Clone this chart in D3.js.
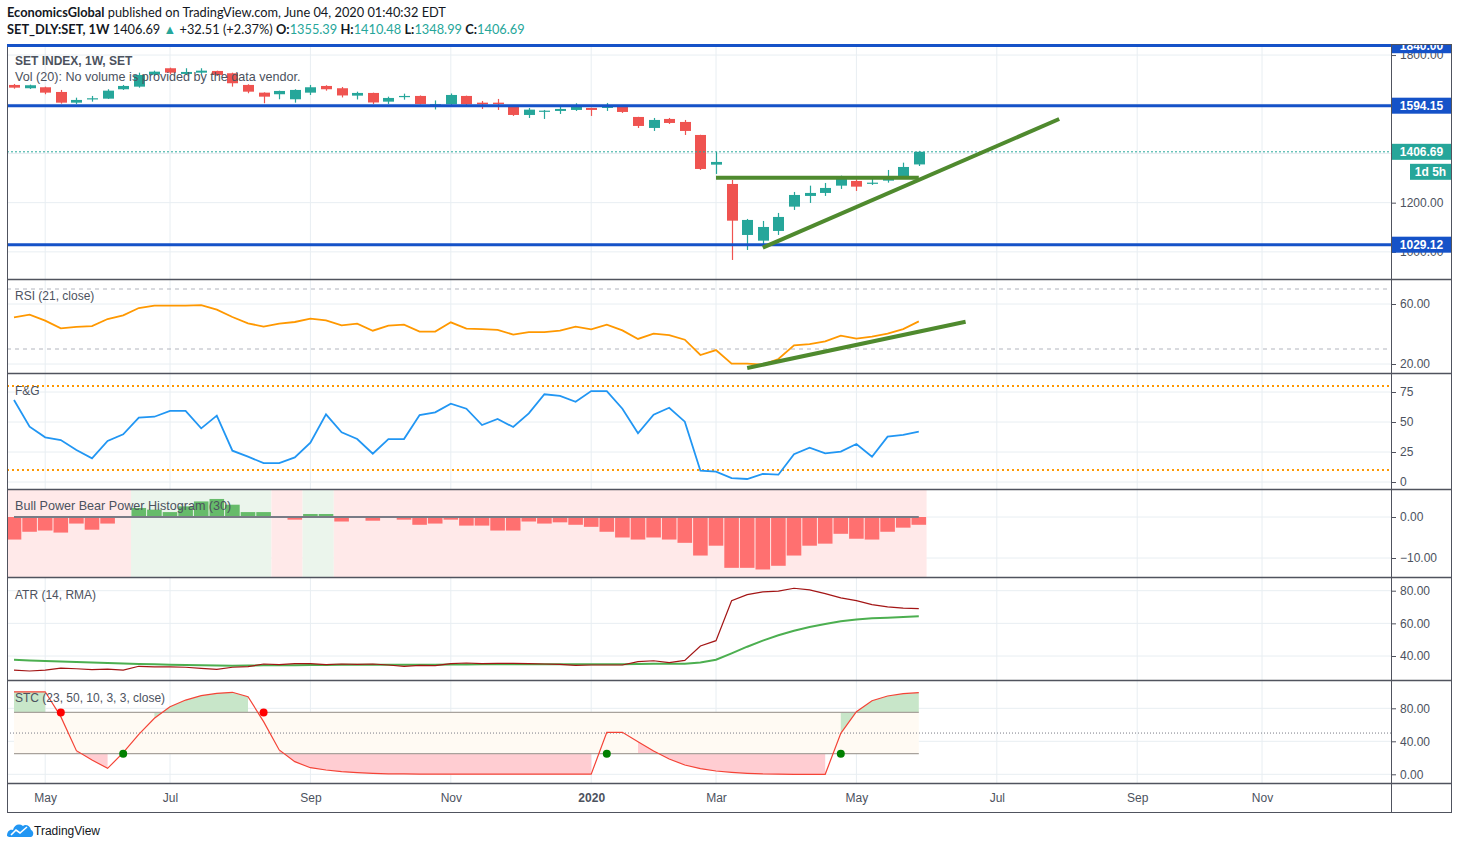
<!DOCTYPE html>
<html>
<head>
<meta charset="utf-8">
<script src="https://cdn.jsdelivr.net/npm/d3@7"></script>
<style>
  body { margin: 0; background: #fff; }
  svg text { font-family: "Liberation Sans", Arial, sans-serif; }
  .axis text { fill: #4c525e; font-size: 12px; }
  .axis line { stroke: #50535e; }
  .axis path { display: none; }
  .title { fill: #4c525e; font-size: 12px; }
  .header { font-family: Lato, "Liberation Sans", sans-serif !important; font-size: 12.8px; fill: #131722; }
</style>
</head>
<body>
<script>
// weekly bars, SET index (Apr 2019 - Jun 2020)
var barDates = d3.utcMonday.range(new Date(Date.UTC(2019, 3, 22)), new Date(Date.UTC(2020, 5, 2)));

var openP  = [1678.5,1665.1,1669.1,1650.0,1606.5,1620.3,1622.8,1661.0,1671.6,1720.3,1746.4,1723.2,1728.5,1735.4,1726.0,1678.5,1647.2,1640.7,1620.3,1647.2,
              1674.4,1665.1,1635.0,1646.0,1610.6,1629.7,1633.8,1597.2,1600.0,1633.8,1606.5,1606.5,1589.0,1556.5,1569.9,1572.8,1576.9,1585.0,1585.0,1589.0,
              1548.4,1503.7,1540.3,1528.1,1475.2,1354.5,1276.0,1068.7,1045.5,1085.0,1183.8,1227.3,1239.5,1269.1,1288.2,1277.3,1289.5,1305.7,1355.39];
var highP  = [1682.5,1679.7,1671.6,1658.2,1626.8,1633.8,1661.0,1678.5,1728.5,1736.6,1748.8,1746.4,1746.4,1736.6,1728.5,1681.3,1648.5,1655.3,1661.0,1678.5,
              1677.3,1670.3,1651.2,1647.2,1630.9,1643.1,1635.8,1615.5,1643.9,1635.0,1613.4,1621.6,1589.5,1585.0,1576.9,1591.9,1604.1,1586.0,1605.3,1589.5,
              1549.0,1544.3,1544.3,1536.2,1476.0,1407.3,1292.3,1133.8,1125.6,1158.2,1243.5,1269.1,1280.1,1309.8,1295.1,1305.7,1332.9,1362.6,1410.48];
var lowP   = [1663.4,1662.2,1640.7,1602.5,1601.2,1610.6,1621.6,1658.2,1667.5,1715.1,1723.2,1719.1,1723.2,1715.1,1671.6,1644.7,1604.1,1620.3,1606.5,1637.8,
              1655.3,1627.7,1619.5,1601.2,1601.2,1618.7,1599.2,1578.9,1597.2,1597.2,1580.9,1576.9,1552.5,1544.3,1540.3,1560.6,1572.8,1552.5,1572.8,1564.7,
              1503.7,1491.5,1519.9,1475.2,1333.0,1316.7,967.1,1007.7,1028.1,1068.7,1170.4,1198.8,1227.3,1255.7,1247.6,1272.0,1281.3,1297.6,1348.99];
var closeP = [1667.5,1677.3,1647.2,1606.5,1617.5,1624.4,1655.3,1674.4,1719.1,1732.5,1728.5,1731.3,1736.6,1719.1,1685.4,1651.2,1630.9,1654.1,1658.2,1669.1,
              1661.0,1635.8,1646.0,1607.3,1625.6,1633.8,1601.2,1600.0,1637.8,1600.0,1600.0,1601.2,1556.5,1578.1,1574.0,1580.9,1591.9,1576.9,1594.3,1568.7,
              1511.8,1536.2,1524.0,1491.5,1337.0,1365.5,1126.8,1129.7,1101.2,1141.9,1231.3,1239.5,1259.8,1303.3,1265.1,1281.3,1303.3,1345.1,1406.69];

var rsiVals = [51.1,52.9,48.9,43.8,44.7,45.3,50.0,52.4,57.3,58.9,58.9,58.9,59.3,56.2,51.3,47.1,44.9,46.9,48.0,50.2,
               49.1,45.8,46.9,42.2,45.6,46.2,41.6,41.6,47.8,43.6,43.3,42.7,39.6,41.3,41.3,42.2,44.9,43.1,46.2,42.4,
               36.7,40.2,39.3,36.2,26.0,29.3,20.2,20.2,19.6,23.3,32.4,33.3,35.1,38.9,36.9,38.2,40.2,43.3,48.4];

var fgVals = [68.3,46.1,37.2,35.0,26.7,19.7,34.2,39.7,53.6,54.4,59.2,59.2,44.7,55.3,26.1,21.1,15.8,15.8,20.5,32.8,
              56.4,41.4,35.8,23.6,35.8,35.8,55.8,58.0,65.3,61.1,47.5,52.5,45.8,57.2,73.1,71.7,66.9,75.8,75.8,61.1,
              40.6,56.1,61.9,50.3,9.4,8.6,3.3,2.5,6.7,6.1,23.1,28.6,23.9,25.3,31.7,21.1,37.8,39.2,41.9];

var bbpVals = [-5.5,-3.6,-3.3,-3.8,-1.6,-3.1,-1.6,-0.1,2.2,1.8,1.2,2.6,3.8,4.4,3.0,1.2,1.2,-0.1,-0.65,0.73,
               0.73,-1.1,-0.1,-0.9,-0.1,-0.65,-1.9,-1.6,-0.65,-2.1,-2.1,-3.3,-3.3,-1.1,-1.6,-1.3,-1.9,-2.4,-3.6,-5.0,
               -5.5,-5.0,-5.5,-6.3,-9.4,-7.0,-12.4,-12.4,-12.8,-11.9,-9.4,-7.0,-6.5,-4.1,-5.3,-5.5,-3.6,-2.6,-1.9];
// background zones of the histogram: [first bar, last bar, bull?]
var bbpZones = [[0, 7, false], [8, 16, true], [17, 18, false], [19, 20, true], [21, 58, false]];

var atrVals = [31.4,30.8,31.4,32.6,32.2,31.6,32.0,31.4,33.7,33.3,33.3,33.1,32.4,31.8,33.1,33.5,35.1,34.7,35.3,35.3,
               34.7,35.1,34.9,35.1,34.5,33.7,34.3,34.1,35.3,35.7,35.3,35.5,35.5,35.3,35.1,34.9,34.3,34.5,34.5,34.5,
               36.5,37.1,35.9,37.3,46.1,49.4,73.9,77.6,79.3,79.7,81.5,80.5,78.2,75.6,73.9,71.5,70.1,69.3,69.0];
var atrMaVals = [37.7,37.3,37.0,36.7,36.3,36.0,35.7,35.4,35.1,34.9,34.6,34.5,34.3,34.2,34.1,34.2,34.3,34.3,34.4,34.5,
                 34.5,34.6,34.6,34.7,34.7,34.7,34.7,34.7,34.8,34.8,34.9,34.9,35.0,35.0,35.0,35.0,35.0,35.0,35.0,35.0,
                 35.1,35.2,35.2,35.3,36.0,37.7,41.6,45.7,49.4,52.7,55.5,57.8,59.6,61.3,62.3,63.1,63.5,63.9,64.3];

var stcVals = [100,100,100,69.9,28.6,17.3,7.2,26.2,48.5,67.9,81.9,90.0,95.3,98.2,99.4,94.1,63.8,29.5,15.3,8.0,
               5.2,3.2,2.0,1.2,0.6,0.4,0.3,0.3,0.2,0.2,0.2,0.2,0.1,0.1,0.1,0.1,0.1,0.1,50.9,50.9,
               39.5,28.2,18.5,11.3,6.8,4.0,2.4,1.2,0.4,0.1,0,0,0,49.7,75.9,89.2,94.9,97.7,98.9];
var stcUpFills = [[0, 2], [9, 15], [53, 58]];
var stcDownFills = [[4, 6], [17, 37], [40, 52]];
var stcSellBars = [3, 16];
var stcBuyBars = [7, 38, 53];

// x axis labels (first weekly bar of the month)
var monthTicks = ["2019-05-06","2019-07-01","2019-09-02","2019-11-04","2020-01-06","2020-03-02","2020-05-04","2020-07-06","2020-09-07","2020-11-02"];
var monthLabels = ["May","Jul","Sep","Nov","2020","Mar","May","Jul","Sep","Nov"];

// drawings on the charts
var levelLines = [1840, 1594.15, 1029.12];
var lastPrice = 1406.69;
var priceTrend = [[48, 1016.9], [67, 1540]];
var priceFlat = [[45, 1301.7], [58, 1301.7]];
var rsiTrend = [[47, 17.3], [61, 48.2]];

var svgWidth = 1458;
var svgHeight = 849;
var plotLeft = 7, plotRight = 1391, axisEdge = 1451;
var panes = {
  price: [44, 279], rsi: [279, 373], fg: [373, 489],
  bbp: [489, 577], atr: [577, 680], stc: [680, 783]
};
var bottomEdge = 812;

var red = "#ef5350", teal = "#26a69a", blue = "#1552c8", drawGreen = "#4f8a2e";

var svg = d3.select("body").append("svg")
  .attr("width", svgWidth)
  .attr("height", svgHeight);

var parseDay = d3.utcParse("%Y-%m-%d");
var x = d3.scaleTime()
  .domain([barDates[0], barDates[barDates.length - 1]])
  .range([14, 918.8]);
function xBar(i) { return x(d3.utcMonday.offset(barDates[0], i)); }

var yPrice = d3.scaleLinear().domain([1000, 1840]).range([251.86, 45.22]);
var yRsi = d3.scaleLinear().domain([20, 60]).range([364, 304]);
var yFg = d3.scaleLinear().domain([0, 75]).range([482, 392]);
var yBbp = d3.scaleLinear().domain([-10, 0]).range([558, 517]);
var yAtr = d3.scaleLinear().domain([40, 80]).range([656, 590.7]);
var yStc = d3.scaleLinear().domain([0, 80]).range([774.3, 708.3]);

// clip per pane
var defs = svg.append("defs");
Object.keys(panes).forEach(function(k) {
  defs.append("clipPath").attr("id", "clip-" + k)
    .append("rect")
    .attr("x", plotLeft).attr("y", panes[k][0])
    .attr("width", plotRight - plotLeft).attr("height", panes[k][1] - panes[k][0]);
});
function paneGroup(k) {
  return svg.append("g").attr("clip-path", "url(#clip-" + k + ")");
}

// grid
var gridGroup = svg.append("g");
gridGroup.selectAll(".vgrid")
  .data(monthTicks)
  .enter()
  .append("line")
  .attr("x1", d => x(parseDay(d)))
  .attr("x2", d => x(parseDay(d)))
  .attr("y1", panes.price[0])
  .attr("y2", panes.stc[1])
  .attr("stroke", "#e8eef2");

function hGrid(scale, vals) {
  gridGroup.selectAll(null)
    .data(vals)
    .enter()
    .append("line")
    .attr("x1", plotLeft).attr("x2", plotRight)
    .attr("y1", d => scale(d)).attr("y2", d => scale(d))
    .attr("stroke", "#e8eef2");
}
hGrid(yPrice, [1000, 1200, 1400, 1600, 1800]);
hGrid(yRsi, [20, 60]);
hGrid(yFg, [0, 25, 50, 75]);
hGrid(yBbp, [-10, 0]);
hGrid(yAtr, [40, 60, 80]);
hGrid(yStc, [0, 40, 80]);

// ---------- price pane ----------
var priceGroup = paneGroup("price");
var bars = barDates.map(function(d, i) {
  return { date: d, o: openP[i], h: highP[i], l: lowP[i], c: closeP[i] };
});

priceGroup.selectAll(".wick")
  .data(bars)
  .enter()
  .append("line")
  .attr("x1", d => Math.round(x(d.date)) + 0.5)
  .attr("x2", d => Math.round(x(d.date)) + 0.5)
  .attr("y1", d => yPrice(d.h))
  .attr("y2", d => yPrice(d.l))
  .attr("stroke", d => d.c >= d.o ? teal : red)
  .attr("stroke-width", 1.2);

priceGroup.selectAll(".body")
  .data(bars)
  .enter()
  .append("rect")
  .attr("x", d => Math.round(x(d.date)) - 5)
  .attr("width", 11)
  .attr("y", d => yPrice(Math.max(d.o, d.c)))
  .attr("height", d => Math.max(1.2, Math.abs(yPrice(d.o) - yPrice(d.c))))
  .attr("fill", d => d.c >= d.o ? teal : red);

// last price dotted line
priceGroup.append("line")
  .attr("x1", plotLeft).attr("x2", plotRight)
  .attr("y1", yPrice(lastPrice)).attr("y2", yPrice(lastPrice))
  .attr("stroke", teal).attr("stroke-dasharray", "2,2");

// horizontal levels
priceGroup.selectAll(".level")
  .data(levelLines)
  .enter()
  .append("line")
  .attr("x1", plotLeft).attr("x2", plotRight)
  .attr("y1", d => yPrice(d)).attr("y2", d => yPrice(d))
  .attr("stroke", blue).attr("stroke-width", 3);

var drawLine = d3.line();
priceGroup.append("path")
  .attr("d", drawLine(priceFlat.map(p => [xBar(p[0]), yPrice(p[1])])))
  .attr("stroke", drawGreen).attr("stroke-width", 4).attr("fill", "none");
priceGroup.append("path")
  .attr("d", drawLine(priceTrend.map(p => [xBar(p[0]), yPrice(p[1])])))
  .attr("stroke", drawGreen).attr("stroke-width", 4).attr("fill", "none");

// ---------- RSI ----------
var rsiGroup = paneGroup("rsi");
rsiGroup.selectAll(".band")
  .data([70, 30])
  .enter()
  .append("line")
  .attr("x1", plotLeft).attr("x2", plotRight)
  .attr("y1", d => yRsi(d)).attr("y2", d => yRsi(d))
  .attr("stroke", "#b2b5be").attr("stroke-dasharray", "4,4");

var rsiLine = d3.line().x((d, i) => x(barDates[i])).y(d => yRsi(d));
rsiGroup.append("path")
  .attr("d", rsiLine(rsiVals))
  .attr("fill", "none").attr("stroke", "#ff9800").attr("stroke-width", 1.8);
rsiGroup.append("path")
  .attr("d", drawLine(rsiTrend.map(p => [xBar(p[0]), yRsi(p[1])])))
  .attr("stroke", drawGreen).attr("stroke-width", 4).attr("fill", "none");

// ---------- F&G ----------
var fgGroup = paneGroup("fg");
fgGroup.selectAll(".fgband")
  .data([80, 10])
  .enter()
  .append("line")
  .attr("x1", plotLeft).attr("x2", plotRight)
  .attr("y1", d => yFg(d)).attr("y2", d => yFg(d))
  .attr("stroke", "#ff9800").attr("stroke-width", 2).attr("stroke-dasharray", "2,3");
var fgLine = d3.line().x((d, i) => x(barDates[i])).y(d => yFg(d));
fgGroup.append("path")
  .attr("d", fgLine(fgVals))
  .attr("fill", "none").attr("stroke", "#2196f3").attr("stroke-width", 1.8);

// ---------- Bull / Bear power ----------
var bbpGroup = paneGroup("bbp");
bbpGroup.selectAll(".zone")
  .data(bbpZones)
  .enter()
  .append("rect")
  .attr("x", d => x(barDates[d[0]]) - 7.8)
  .attr("width", d => x(barDates[d[1]]) - x(barDates[d[0]]) + 15.6)
  .attr("y", panes.bbp[0]).attr("height", panes.bbp[1] - panes.bbp[0])
  .attr("fill", d => d[2] ? "#ebf5ec" : "#ffe9e9");

bbpGroup.selectAll(".hbar")
  .data(bbpVals)
  .enter()
  .append("rect")
  .attr("x", (d, i) => x(barDates[i]) - 7.3)
  .attr("width", 14.6)
  .attr("y", d => yBbp(Math.max(0, d)))
  .attr("height", d => Math.abs(yBbp(d) - yBbp(0)))
  .attr("fill", d => d >= 0 ? "#66bb6a" : "#ff7070");

bbpGroup.append("line")
  .attr("x1", x(barDates[0])).attr("x2", x(barDates[58]))
  .attr("y1", yBbp(0)).attr("y2", yBbp(0))
  .attr("stroke", "#787b86").attr("stroke-width", 2);

// ---------- ATR ----------
var atrGroup = paneGroup("atr");
var atrLine = d3.line().x((d, i) => x(barDates[i])).y(d => yAtr(d));
atrGroup.append("path")
  .attr("d", atrLine(atrMaVals))
  .attr("fill", "none").attr("stroke", "#4caf50").attr("stroke-width", 2);
atrGroup.append("path")
  .attr("d", atrLine(atrVals))
  .attr("fill", "none").attr("stroke", "#a31515").attr("stroke-width", 1.2);

// ---------- STC ----------
var stcGroup = paneGroup("stc");
stcGroup.append("rect")
  .attr("x", x(barDates[0])).attr("width", x(barDates[58]) - x(barDates[0]))
  .attr("y", yStc(75)).attr("height", yStc(25) - yStc(75))
  .attr("fill", "#fffaf3");

function stcFill(range, level, color) {
  var idx = d3.range(range[0], range[1] + 1);
  var area = d3.area()
    .x(i => x(barDates[i]))
    .y0(yStc(level))
    .y1(i => yStc(stcVals[i]));
  stcGroup.append("path").attr("d", area(idx)).attr("fill", color);
}
stcUpFills.forEach(r => stcFill(r, 75, "#c8e6c9"));
stcDownFills.forEach(r => stcFill(r, 25, "#ffcdd2"));

stcGroup.selectAll(".stcband")
  .data([75, 25])
  .enter()
  .append("line")
  .attr("x1", x(barDates[0])).attr("x2", x(barDates[58]))
  .attr("y1", d => yStc(d)).attr("y2", d => yStc(d))
  .attr("stroke", "#a8a29c").attr("stroke-width", 1.2);
stcGroup.append("line")
  .attr("x1", plotLeft).attr("x2", plotRight)
  .attr("y1", yStc(50)).attr("y2", yStc(50))
  .attr("stroke", "#787b86").attr("stroke-dasharray", "1,2");

var stcLine = d3.line().x((d, i) => x(barDates[i])).y(d => yStc(d));
stcGroup.append("path")
  .attr("d", stcLine(stcVals))
  .attr("fill", "none").attr("stroke", "#f44336").attr("stroke-width", 1.2);

stcGroup.selectAll(".sell")
  .data(stcSellBars)
  .enter()
  .append("circle")
  .attr("cx", d => x(barDates[d])).attr("cy", yStc(75)).attr("r", 4)
  .attr("fill", "#ff0000");
stcGroup.selectAll(".buy")
  .data(stcBuyBars)
  .enter()
  .append("circle")
  .attr("cx", d => x(barDates[d])).attr("cy", yStc(25)).attr("r", 4)
  .attr("fill", "#008000");

// ---------- axes ----------
function rightAxis(scale, vals, fmt) {
  svg.append("g")
    .attr("class", "axis")
    .attr("transform", `translate(${plotRight}, 0)`)
    .call(d3.axisRight(scale).tickValues(vals).tickFormat(fmt).tickSize(5).tickPadding(4));
}
rightAxis(yPrice, [1000, 1200, 1400, 1600, 1800], d3.format(".2f"));
rightAxis(yRsi, [20, 60], d3.format(".2f"));
rightAxis(yFg, [0, 25, 50, 75], d3.format("d"));
rightAxis(yBbp, [-10, 0], d3.format(".2f"));
rightAxis(yAtr, [40, 60, 80], d3.format(".2f"));
rightAxis(yStc, [0, 40, 80], d3.format(".2f"));

var xAxisGroup = svg.append("g")
  .attr("class", "axis")
  .attr("transform", `translate(0, ${panes.stc[1]})`)
  .call(d3.axisBottom(x)
    .tickValues(monthTicks.map(parseDay))
    .tickFormat((d, i) => monthLabels[i])
    .tickSize(0).tickPadding(10));
xAxisGroup.selectAll("text")
  .attr("font-weight", (d, i) => monthLabels[i] == "2020" ? "bold" : null);

// price labels on the axis
function axisTag(y, txt, color, x0, w) {
  var g = svg.append("g");
  g.append("rect")
    .attr("x", x0).attr("y", y - 8).attr("width", w).attr("height", 16)
    .attr("fill", color);
  g.append("text")
    .attr("x", x0 + w / 2).attr("y", y + 4.5)
    .attr("text-anchor", "middle")
    .attr("fill", "#fff").attr("font-size", "12px").attr("font-weight", "bold")
    .text(txt);
}
levelLines.forEach(v => axisTag(yPrice(v), d3.format(".2f")(v), blue, plotRight + 1, axisEdge - plotRight - 1));
axisTag(yPrice(lastPrice), d3.format(".2f")(lastPrice), teal, plotRight + 1, axisEdge - plotRight - 1);
axisTag(yPrice(lastPrice) + 20, "1d 5h", teal, 1410, axisEdge - 1410);
// hide the part of the top tag above the pane
svg.append("rect").attr("x", plotRight).attr("y", 30).attr("width", 70).attr("height", 14).attr("fill", "#fff");

// ---------- frame ----------
var frame = svg.append("g").attr("stroke", "#50535e").attr("fill", "none");
frame.append("rect")
  .attr("x", plotLeft + 0.5).attr("y", panes.price[0] + 0.5)
  .attr("width", axisEdge - plotLeft).attr("height", bottomEdge - panes.price[0]);
frame.append("line").attr("x1", plotRight + 0.5).attr("x2", plotRight + 0.5)
  .attr("y1", panes.price[0]).attr("y2", bottomEdge);
[panes.price[1], panes.rsi[1], panes.fg[1], panes.bbp[1], panes.atr[1], panes.stc[1]].forEach(function(y) {
  frame.append("line").attr("x1", plotLeft).attr("x2", axisEdge)
    .attr("y1", y + 0.5).attr("y2", y + 0.5).attr("stroke-width", 1.5);
});
// the top blue level line sits on the frame
svg.append("line")
  .attr("x1", plotLeft).attr("x2", plotRight)
  .attr("y1", 45.5).attr("y2", 45.5)
  .attr("stroke", blue).attr("stroke-width", 3);

// ---------- titles ----------
svg.append("text").attr("class", "title").attr("x", 15).attr("y", 65)
  .attr("font-weight", "bold").text("SET INDEX, 1W, SET");
svg.append("text").attr("class", "title").attr("x", 15).attr("y", 81)
  .style("font-size", "12.6px")
  .text("Vol (20): No volume is provided by the data vendor.");
svg.append("text").attr("class", "title").attr("x", 15).attr("y", 300).text("RSI (21, close)");
svg.append("text").attr("class", "title").attr("x", 15).attr("y", 395).text("F&G");
svg.append("text").attr("class", "title").attr("x", 15).attr("y", 510)
  .style("font-size", "12.6px").text("Bull Power Bear Power Histogram (30)");
svg.append("text").attr("class", "title").attr("x", 15).attr("y", 599).text("ATR (14, RMA)");
svg.append("text").attr("class", "title").attr("x", 15).attr("y", 702).text("STC (23, 50, 10, 3, 3, close)");

// header
var h1 = svg.append("text").attr("class", "header").attr("x", 7).attr("y", 17);
h1.append("tspan").attr("font-weight", "bold").text("EconomicsGlobal");
h1.append("tspan").text(" published on TradingView.com, June 04, 2020 01:40:32 EDT");

var h2 = svg.append("text").attr("class", "header").attr("x", 7).attr("y", 34);
h2.append("tspan").attr("font-weight", "bold").text("SET_DLY:SET, 1W");
h2.append("tspan").text(" 1406.69 ");
h2.append("tspan").attr("fill", teal).text("▲");
h2.append("tspan").text(" +32.51 (+2.37%) ");
[["O:", "1355.39 "], ["H:", "1410.48 "], ["L:", "1348.99 "], ["C:", "1406.69"]].forEach(function(p) {
  h2.append("tspan").attr("font-weight", "bold").text(p[0]);
  h2.append("tspan").attr("fill", teal).text(p[1]);
});

// TradingView logo
var logo = svg.append("g").attr("transform", "translate(7, 822)");
logo.append("path")
  .attr("d", "M0,14 C0,9 3,7 6,8 C7,3 12,1 16,4 C18,2 23,3 24,8 C27,9 27,14 24,15 L2,15 Z")
  .attr("fill", "#2196f3");
logo.append("path")
  .attr("d", "M4,13 L9,8 L13,11 L20,5")
  .attr("stroke", "#fff").attr("stroke-width", 1.6).attr("fill", "none");
svg.append("text").attr("x", 34).attr("y", 835).attr("font-size", "12px").attr("fill", "#131722").text("TradingView");
</script>
</body>
</html>
